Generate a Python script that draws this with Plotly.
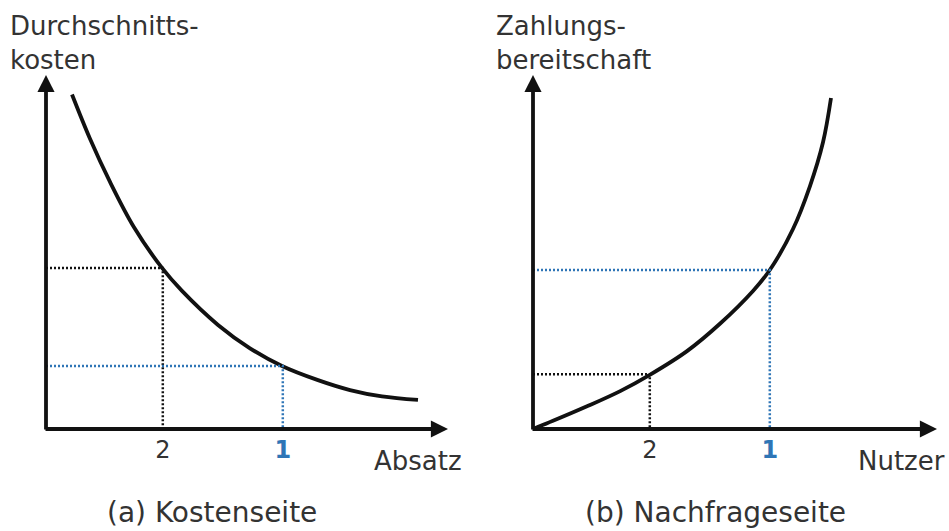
import plotly.graph_objects as go

# ---- data (arbitrary units, origin at axes corner) ----
cost_x = [0.65, 1.1, 1.6, 2.2, 2.9, 3.4, 4.3, 5.1, 5.9, 6.8, 7.6, 8.4, 9.3]
cost_y = [9.45, 8.2, 6.98, 5.7, 4.55, 3.9, 2.94, 2.28, 1.78, 1.38, 1.1, 0.92, 0.82]

wtp_x = [0.0, 0.5, 1.35, 2.18, 2.92, 3.85, 4.68, 5.5, 5.92, 6.5, 6.92, 7.25, 7.45]
wtp_y = [0.0, 0.23, 0.64, 1.07, 1.53, 2.2, 2.98, 3.9, 4.49, 5.65, 6.85, 8.1, 9.35]

mark_x = [2.92, 5.92]           # positions of "2" and "1"
mark_labels = ["2", "1"]
cost_mark_y = [4.55, 1.78]
wtp_mark_y = [1.55, 4.49]

BLACK = "#111111"
BLUE = "#2E75B6"
TXT = "#333333"
FONT = "DejaVu Sans"

fig = go.Figure()

# curves
fig.add_trace(go.Scatter(x=cost_x, y=cost_y, mode="lines", line=dict(color=BLACK, width=3.8, shape="spline"),
                         xaxis="x", yaxis="y", cliponaxis=False, hoverinfo="skip"))
fig.add_trace(go.Scatter(x=wtp_x, y=wtp_y, mode="lines", line=dict(color=BLACK, width=3.8, shape="spline"),
                         xaxis="x2", yaxis="y2", cliponaxis=False, hoverinfo="skip"))

# dotted guide lines
guide_colors = [BLACK, BLUE]
for i in range(2):
    fig.add_trace(go.Scatter(x=[0, mark_x[i], mark_x[i]], y=[cost_mark_y[i], cost_mark_y[i], 0],
                             mode="lines", line=dict(color=guide_colors[i], width=2.5, dash="2px,2px"),
                             xaxis="x", yaxis="y", cliponaxis=False, hoverinfo="skip"))
    fig.add_trace(go.Scatter(x=[0, mark_x[i], mark_x[i]], y=[wtp_mark_y[i], wtp_mark_y[i], 0],
                             mode="lines", line=dict(color=guide_colors[i], width=2.5, dash="2px,2px"),
                             xaxis="x2", yaxis="y2", cliponaxis=False, hoverinfo="skip"))

ticktext = [mark_labels[0], '<span style="color:%s"><b>%s</b></span>' % (BLUE, mark_labels[1])]

ax_common = dict(showgrid=False, zeroline=False, showline=False, ticks="",
                 tickvals=mark_x, ticktext=ticktext, tickfont=dict(family=FONT, size=24, color=TXT),
                 ticklabelstandoff=4, fixedrange=True)
ay_common = dict(showgrid=False, zeroline=False, showline=False, showticklabels=False,
                 range=[0, 10], fixedrange=True)

X1_END = 10.05
X2_END = 10.1

fig.update_layout(
    width=949, height=531,
    margin=dict(l=0, r=0, t=0, b=0),
    paper_bgcolor="white", plot_bgcolor="white",
    showlegend=False,
    xaxis=dict(domain=[46/949, 448/949], range=[0, X1_END], anchor="y", **ax_common),
    yaxis=dict(domain=[102/531, 456/531], anchor="x", **ay_common),
    xaxis2=dict(domain=[533/949, 937/949], range=[0, X2_END], anchor="y2", **ax_common),
    yaxis2=dict(domain=[102/531, 456/531], anchor="x2", **ay_common),
)

# axes with arrows
def arrow(xr, yr, x, y, ax, ay):
    return dict(xref=xr, yref=yr, axref=xr, ayref=yr, x=x, y=y, ax=ax, ay=ay,
                text="", showarrow=True, arrowhead=2, arrowsize=0.9, arrowwidth=3.8,
                arrowcolor=BLACK)

anns = [
    arrow("x", "y", X1_END, 0, -0.05, 0),
    arrow("x", "y", 0, 10, 0, -0.06),
    arrow("x2", "y2", X2_END, 0, -0.05, 0),
    arrow("x2", "y2", 0, 10, 0, -0.06),
]

def txt(text, x, y, size, xanchor="left", yanchor="middle"):
    return dict(xref="paper", yref="paper", x=x, y=y, text=text, showarrow=False,
                xanchor=xanchor, yanchor=yanchor, align="left",
                font=dict(family=FONT, size=size, color=TXT))

anns += [
    txt("Durchschnitts-<br>kosten", 8/949, 1 - 43/531, 26),
    txt("Zahlungs-<br>bereitschaft", 494/949, 1 - 43/531, 26),
    txt("Absatz", 464/949, 1 - 461/531, 26, xanchor="right"),
    txt("Nutzer", 947/949, 1 - 461/531, 26, xanchor="right"),
    txt("(a) Kostenseite", 212/949, 1 - 512/531, 28, xanchor="center"),
    txt("(b) Nachfrageseite", 715/949, 1 - 512/531, 28, xanchor="center"),
]

fig.update_layout(annotations=anns)

fig.write_html("out.html", config={"displayModeBar": False, "staticPlot": True},
               post_script="document.body.style.margin='0';document.body.style.padding='0';")
